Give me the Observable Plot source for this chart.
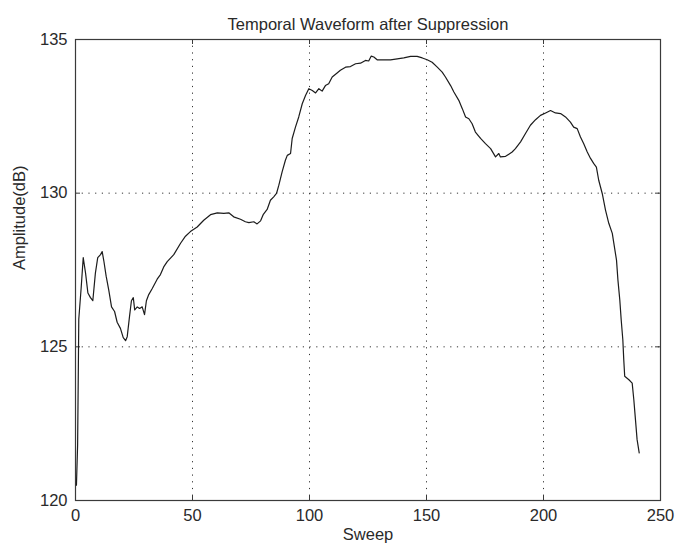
<!DOCTYPE html>
<html>
<head>
<meta charset="utf-8">
<script src="https://cdn.jsdelivr.net/npm/d3@7"></script>
<script src="https://cdn.jsdelivr.net/npm/@observablehq/plot@0.6"></script>
<style>
html, body { margin: 0; padding: 0; background: #fff; }
</style>
</head>
<body>
<div id="chart"></div>
<script>
const title = "Temporal Waveform after Suppression";
const xLabel = "Sweep";
const yLabel = "Amplitude(dB)";
const xTicks = [0, 50, 100, 150, 200, 250];
const yTicks = [120, 125, 130, 135];

const sweep = [0.4, 0.9, 1.2, 1.4, 2.4, 3.3, 4.3, 5.3, 6.4, 7.4, 8.5, 9.5, 10.7, 11.4, 12.1, 13.1, 14.2, 15.4, 16.7, 17.8,
  19.2, 20.4, 21.4, 22.1, 23.1, 23.9, 24.7, 25.3, 26.4, 27.4, 28.5, 29.5, 30.3, 31.3, 32.8, 34.9, 36.3, 37.7, 39.2, 42.0,
  44.9, 47.0, 49.1, 52.0, 54.8, 57.7, 60.6, 63.4, 65.5, 67.6, 70.5, 72.6, 74.1, 76.2, 77.6, 79.1, 80.2, 81.9, 83.3, 84.7,
  85.9, 86.9, 88.3, 89.7, 90.5, 91.9, 92.6, 94.0, 95.4, 96.9, 98.3, 99.7, 101.2, 102.6, 104.0, 105.4, 106.8, 108.2, 109.7, 111.8,
  113.2, 115.4, 117.5, 119.7, 121.8, 123.9, 125.3, 126.4, 127.5, 128.9, 131.8, 134.6, 137.5, 140.3, 143.2, 146.0, 148.2, 150.3, 152.4, 154.6,
  156.7, 158.1, 160.3, 161.7, 163.8, 165.3, 166.7, 168.1, 169.5, 170.9, 173.1, 175.2, 177.4, 179.5, 180.9, 181.6, 183.8, 185.2, 186.6, 188.0,
  190.2, 192.3, 194.4, 196.6, 198.7, 200.9, 203.0, 205.1, 207.3, 209.4, 211.5, 212.9, 214.4, 215.8, 217.2, 218.7, 220.1, 221.5, 222.6, 223.6,
  225.1, 226.5, 227.9, 229.4, 230.0, 231.2, 231.8, 232.6, 233.2, 233.9, 234.3, 234.7, 236.5, 237.9, 238.6, 239.3, 240.0, 240.9];

const amplitude = [120.5, 121.8, 124.2, 125.9, 126.9, 127.9, 127.4, 126.75, 126.6, 126.5, 127.4, 127.9, 128.0, 128.1, 127.8, 127.3, 126.85, 126.3, 126.15, 125.8,
  125.6, 125.3, 125.2, 125.33, 126.0, 126.5, 126.6, 126.2, 126.3, 126.25, 126.3, 126.05, 126.5, 126.7, 126.9, 127.2, 127.35, 127.6, 127.77, 128.0,
  128.37, 128.6, 128.75, 128.9, 129.12, 129.3, 129.36, 129.34, 129.36, 129.23, 129.15, 129.07, 129.04, 129.07, 129.0, 129.1, 129.3, 129.47, 129.77, 129.88,
  129.99, 130.26, 130.69, 131.07, 131.23, 131.29, 131.78, 132.15, 132.48, 132.91, 133.18, 133.4, 133.34, 133.26, 133.4, 133.32, 133.5, 133.56, 133.78, 133.91,
  134.0, 134.1, 134.12, 134.21, 134.23, 134.32, 134.3, 134.46, 134.43, 134.34, 134.34, 134.34, 134.37, 134.4, 134.45, 134.45, 134.4, 134.34, 134.26, 134.1,
  133.94, 133.78, 133.5, 133.29, 133.02, 132.75, 132.48, 132.42, 132.26, 131.99, 131.78, 131.61, 131.45, 131.18, 131.29, 131.18, 131.2, 131.27, 131.34, 131.45,
  131.67, 131.94, 132.21, 132.39, 132.53, 132.61, 132.69, 132.61, 132.59, 132.48, 132.31, 132.15, 132.1, 131.83, 131.61, 131.34, 131.13, 130.96, 130.85, 130.42,
  129.99, 129.45, 129.02, 128.69, 128.4, 127.82, 127.18, 126.53, 125.88, 125.23, 124.58, 124.04, 123.93, 123.82, 123.28, 122.63, 121.98, 121.55];

const data = sweep.map((s, i) => ({s, a: amplitude[i]}));

const W = 678, H = 552;
const mL = 75, mR = 18, mT = 39, mB = 52;
const fw = W - mL - mR, fh = H - mT - mB;
const tick = 5;
const axisColor = "#3a3a3a";
const font = "'Liberation Sans', Arial, Helvetica, sans-serif";

const innerX = xTicks.slice(1, -1);
const innerY = yTicks.slice(1, -1);

const chart = Plot.plot({
  width: W,
  height: H,
  marginLeft: mL,
  marginRight: mR,
  marginTop: mT,
  marginBottom: mB,
  style: {fontFamily: font, fontSize: "16px", background: "#fff", color: "#2a2a2a"},
  x: {domain: [0, 250]},
  y: {domain: [120, 135]},
  marks: [
    // dotted grid
    Plot.ruleX(innerX, {stroke: "#333", strokeWidth: 1, strokeDasharray: "1.2,5.5"}),
    Plot.ruleY(innerY, {stroke: "#333", strokeWidth: 1, strokeDasharray: "1.2,5.5"}),
    // inward ticks on all sides
    Plot.ruleX(xTicks, {stroke: axisColor, insetTop: fh - tick}),
    Plot.ruleX(xTicks, {stroke: axisColor, insetBottom: fh - tick}),
    Plot.ruleY(yTicks, {stroke: axisColor, insetRight: fw - tick}),
    Plot.ruleY(yTicks, {stroke: axisColor, insetLeft: fw - tick}),
    Plot.frame({stroke: axisColor, strokeWidth: 1.2}),
    // tick labels
    Plot.axisX({ticks: xTicks, tickSize: 0, tickPadding: 9, fontSize: 16.5, label: null}),
    Plot.axisY({ticks: yTicks, tickSize: 0, tickPadding: 8, fontSize: 16.5, label: null}),
    // data line
    Plot.line(data, {x: "s", y: "a", stroke: "#1c1c1c", strokeWidth: 1.2}),
    // titles
    Plot.text([title], {frameAnchor: "top", dy: -21, fontSize: 16.5, fill: "#2a2a2a"}),
    Plot.text([xLabel], {frameAnchor: "bottom", dy: 39, fontSize: 16.5, fill: "#2a2a2a"}),
    Plot.text([yLabel], {frameAnchor: "left", dx: -56, rotate: -90, fontSize: 16.5, fill: "#2a2a2a"})
  ]
});

document.getElementById("chart").appendChild(chart);
</script>
</body>
</html>
